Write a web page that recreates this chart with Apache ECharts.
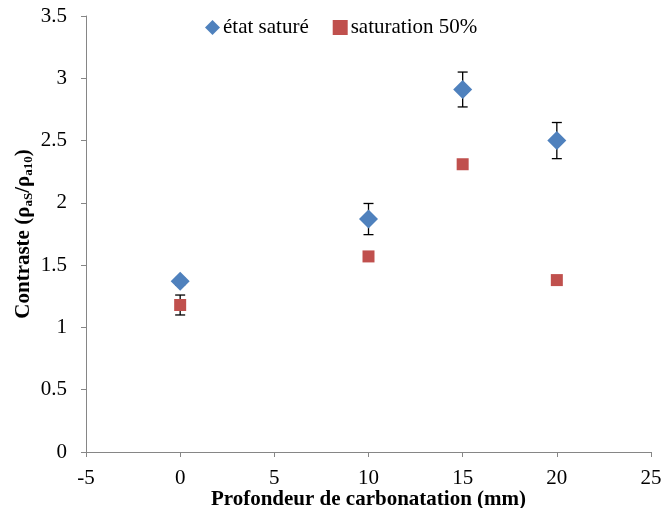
<!DOCTYPE html>
<html>
<head>
<meta charset="utf-8">
<title>Contraste</title>
<script src="https://cdn.jsdelivr.net/npm/echarts@6/dist/echarts.min.js"></script>
<style>
  html, body { margin: 0; padding: 0; background: #fff; }
</style>
</head>
<body>
<div id="main" style="width:663px;height:508px"></div>
<script>
  // profondeur (mm)
  var depth = [0, 10, 15, 20];
  // état saturé
  var satValues = [1.37, 1.87, 2.91, 2.50];
  var satErr = [0.03, 0.125, 0.14, 0.145];
  // saturation 50%
  var halfValues = [1.18, 1.57, 2.31, 1.38];
  var halfErr = [0.08, 0, 0, 0];

  var font = 'Liberation Serif';

  function pairs(xs, ys) {
    return xs.map(function (x, i) { return [x, ys[i]]; });
  }
  function errData(xs, ys, es) {
    var out = [];
    xs.forEach(function (x, i) {
      if (es[i] > 0) out.push([x, ys[i] - es[i], ys[i] + es[i]]);
    });
    return out;
  }

  function renderErr(params, api) {
    var lo = api.coord([api.value(0), api.value(1)]);
    var hi = api.coord([api.value(0), api.value(2)]);
    var w = 5;
    var st = { stroke: '#000', lineWidth: 1.3 };
    return {
      type: 'group',
      children: [
        { type: 'line', shape: { x1: lo[0], y1: lo[1], x2: hi[0], y2: hi[1] }, style: st },
        { type: 'line', shape: { x1: lo[0] - w, y1: lo[1], x2: lo[0] + w, y2: lo[1] }, style: st },
        { type: 'line', shape: { x1: hi[0] - w, y1: hi[1], x2: hi[0] + w, y2: hi[1] }, style: st }
      ]
    };
  }

  var chart = echarts.init(document.getElementById('main'));
  var option = {
    animation: false,
    backgroundColor: '#fff',
    grid: { left: 86, right: 12, top: 16, bottom: 56, outerBoundsMode: 'none' },
    legend: {
      top: 12,
      left: 200,
      itemGap: 24,
      itemWidth: 15,
      itemHeight: 15,
      textStyle: { fontFamily: font, fontSize: 21, color: '#000', padding: [0, 0, 0, -2] },
      data: [
        { name: 'état saturé', icon: 'diamond' },
        { name: 'saturation 50%', icon: 'rect' }
      ]
    },
    xAxis: {
      type: 'value',
      min: -5,
      max: 25,
      interval: 5,
      name: 'Profondeur de carbonatation (mm)',
      nameLocation: 'middle',
      nameGap: 37,
      nameMoveOverlap: false,
      nameTextStyle: { fontFamily: font, fontSize: 21, fontWeight: 'bold', color: '#000' },
      axisLine: { lineStyle: { color: '#868686' } },
      axisTick: { length: 5, lineStyle: { color: '#868686' } },
      axisLabel: { fontFamily: font, fontSize: 21, color: '#000', margin: 16 },
      splitLine: { show: false }
    },
    yAxis: {
      type: 'value',
      min: 0,
      max: 3.5,
      interval: 0.5,
      name: '{t|Contraste (ρ}{s|aS}{t|/ρ}{s|a10}{t|)}',
      nameLocation: 'middle',
      nameGap: 51,
      nameMoveOverlap: false,
      nameRotate: 90,
      nameTextStyle: {
        rich: {
          t: { fontFamily: font, fontSize: 21, fontWeight: 'bold', color: '#000' },
          s: { fontFamily: font, fontSize: 13, fontWeight: 'bold', color: '#000', padding: [9, 0, 0, 0] }
        }
      },
      axisLine: { show: true, onZero: false, lineStyle: { color: '#868686' } },
      axisTick: { show: true, length: 5, lineStyle: { color: '#868686' } },
      axisLabel: { fontFamily: font, fontSize: 21, color: '#000', margin: 19 },
      splitLine: { show: false }
    },
    series: [
      {
        type: 'custom',
        name: 'err1',
        renderItem: renderErr,
        data: errData(depth, satValues, satErr),
        encode: { x: 0, y: [1, 2] },
        z: 1
      },
      {
        type: 'custom',
        name: 'err2',
        renderItem: renderErr,
        data: errData(depth, halfValues, halfErr),
        encode: { x: 0, y: [1, 2] },
        z: 1
      },
      {
        type: 'scatter',
        name: 'état saturé',
        symbol: 'diamond',
        symbolSize: 19,
        itemStyle: { color: '#4F81BD', opacity: 1 },
        data: pairs(depth, satValues),
        z: 3
      },
      {
        type: 'scatter',
        name: 'saturation 50%',
        symbol: 'rect',
        symbolSize: 12,
        itemStyle: { color: '#C0504D', opacity: 1 },
        data: pairs(depth, halfValues),
        z: 3
      }
    ]
  };
  chart.setOption(option);
</script>
</body>
</html>
